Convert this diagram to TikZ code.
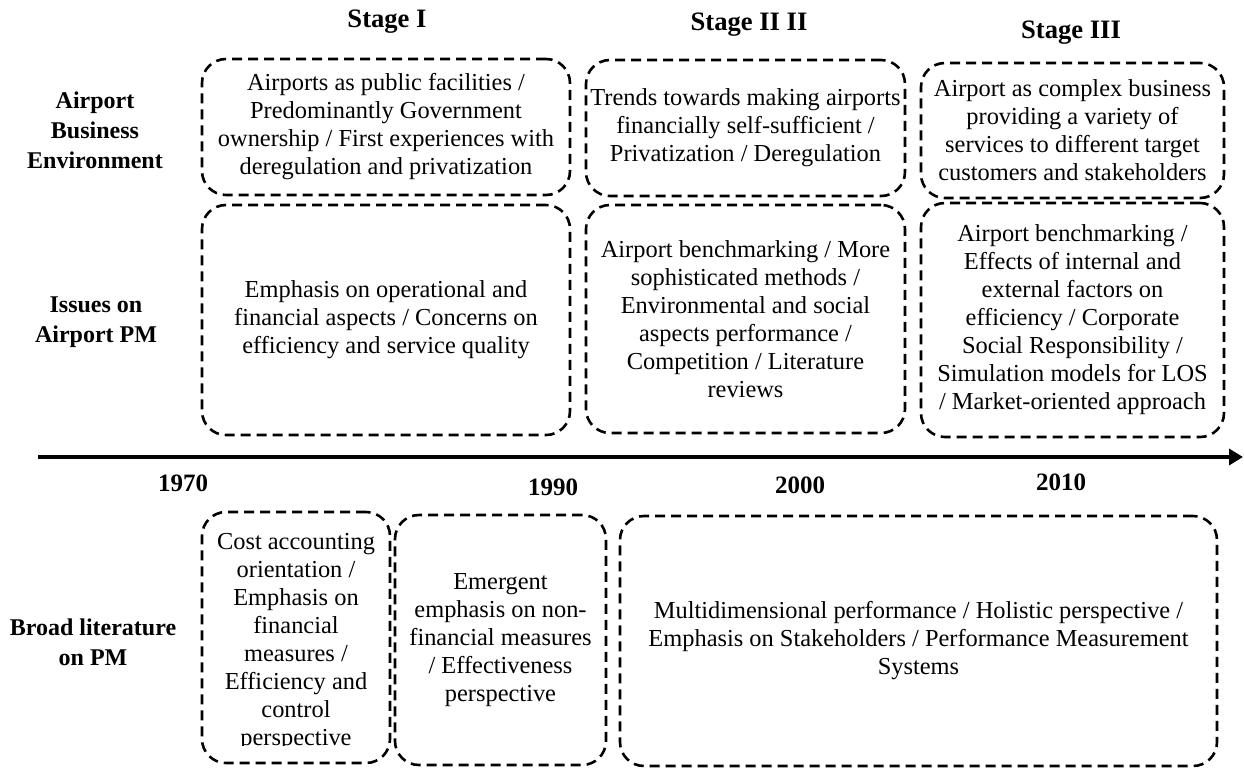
\documentclass[tikz,border=0pt]{standalone}
\usepackage{fontspec}
\setmainfont{Liberation Serif}
\usetikzlibrary{arrows.meta}

\tikzset{
    dashbox/.style={draw, line width=1.3pt, dash pattern=on 5pt off 3pt, rounded corners=12pt,
        align=center, inner sep=0pt, font=\fontsize{12.2}{14}\selectfont},
    boxtext/.style={align=center, inner sep=0pt, font=\fontsize{12.2}{14}\selectfont},
    rowlabel/.style={align=center, font=\fontsize{12}{15}\selectfont\bfseries},
    stagelabel/.style={font=\fontsize{13.3}{16}\selectfont\bfseries},
    yearlabel/.style={font=\fontsize{12.5}{15}\selectfont\bfseries}
}

\begin{document}
\begin{tikzpicture}[x=0.5pt,y=-0.5pt]
        \useasboundingbox (0,0) rectangle (1244,767);
        % stages
        \node[stagelabel] (stageI) at (387,22) {Stage I};
        \node[stagelabel] (stageII) at (749,25) {Stage II II};
        \node[stagelabel] (stageIII) at (1071,33) {Stage III};
        % row labels
        \node[rowlabel] (envlabel) at (95,130) {Airport\\ Business\\ Environment};
        \node[rowlabel] (issuelabel) at (96,322) {Issues on\\ Airport PM};
        \node[rowlabel] (litlabel) at (93,642) {Broad literature\\ on PM};
        % airport business environment
        \node[dashbox, minimum width=184pt, minimum height=68pt] (envI) at (386,127)
            {Airports as public facilities /\\ Predominantly Government\\ ownership / First experiences with\\ deregulation and privatization};
        \node[dashbox, minimum width=159.5pt, minimum height=68pt] (envII) at (745.5,128)
            {Trends towards making airports\\ financially self-sufficient /\\ Privatization / Deregulation};
        \node[dashbox, minimum width=151.5pt, minimum height=67.5pt] (envIII) at (1072.5,130.5)
            {Airport as complex business\\ providing a variety of\\ services to different target\\ customers and stakeholders};
        % issues on airport pm
        \node[dashbox, minimum width=184pt, minimum height=115pt] (issueI) at (386,320)
            {Emphasis on operational and\\ financial aspects / Concerns on\\ efficiency and service quality};
        \node[dashbox, minimum width=159.5pt, minimum height=114pt] (issueII) at (745.5,319)
            {Airport benchmarking / More\\ sophisticated methods /\\ Environmental and social\\ aspects performance /\\ Competition / Literature\\ reviews};
        \node[dashbox, minimum width=151.5pt, minimum height=117pt] (issueIII) at (1072.5,320)
            {Airport benchmarking /\\ Effects of internal and\\ external factors on\\ efficiency / Corporate\\ Social Responsibility /\\ Simulation models for LOS\\ / Market-oriented approach};
        % timeline
        \coordinate (tlstart) at (38,457);
        \coordinate (tlend) at (1243,457);
        \draw[line width=2.2pt, -{Triangle[length=7pt,width=8pt]}] (tlstart) -- (tlend);
        \node[yearlabel] (y1970) at (183,483) {1970};
        \node[yearlabel] (y1990) at (553,487) {1990};
        \node[yearlabel] (y2000) at (800,485) {2000};
        \node[yearlabel] (y2010) at (1061,482) {2010};
        % broad literature on pm
        \node[dashbox, minimum width=94pt, minimum height=125.5pt] (litI) at (296,637.5) {};
        \begin{scope}
            \clip (litI.north west) rectangle (392,745);
            \node[boxtext] (litItext) at (296,642)
                {Cost accounting\\ orientation /\\ Emphasis on\\ financial\\ measures /\\ Efficiency and\\ control\\ perspective};
        \end{scope}
        \node[dashbox, minimum width=105.5pt, minimum height=125pt] (litII) at (500.5,640)
            {Emergent\\ emphasis on non-\\ financial measures\\ / Effectiveness\\ perspective};
        \node[dashbox, minimum width=298.5pt, minimum height=125pt] (litIII) at (918.5,641)
            {Multidimensional performance / Holistic perspective /\\ Emphasis on Stakeholders / Performance Measurement\\ Systems};
\end{tikzpicture}
\end{document}
